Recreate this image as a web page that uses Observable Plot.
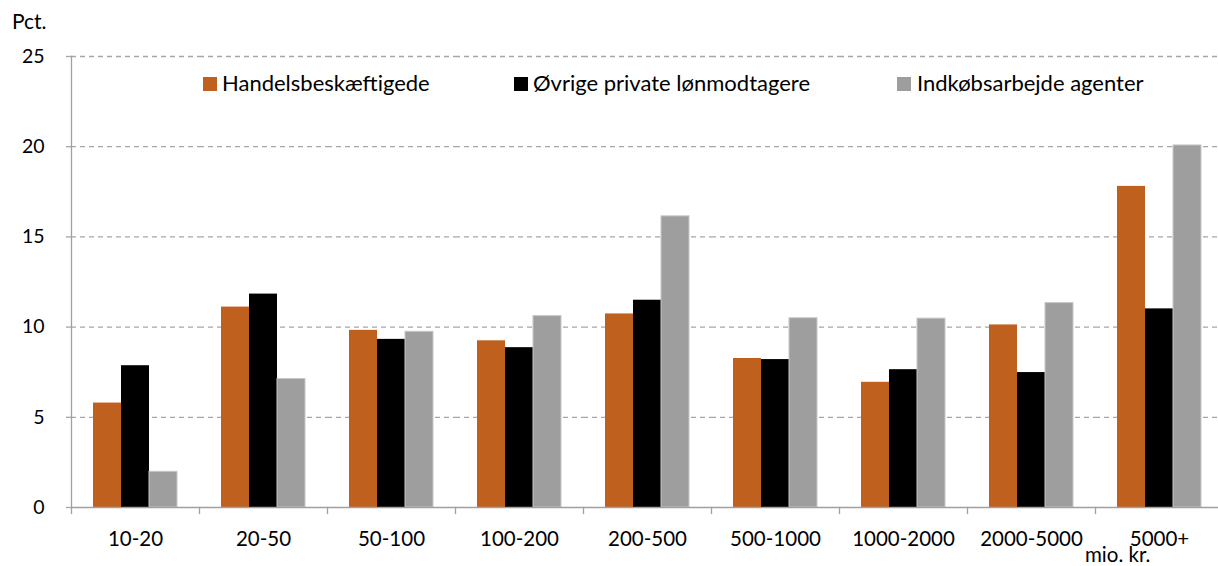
<!DOCTYPE html>
<html>
<head>
<meta charset="utf-8">
<script src="https://cdn.jsdelivr.net/npm/d3@7"></script>
<script src="https://cdn.jsdelivr.net/npm/@observablehq/plot@0.6"></script>
<style>
  html, body { margin: 0; padding: 0; background: #fff; overflow: hidden; }
  #wrap { position: relative; width: 1218px; height: 566px; overflow: hidden; font-family: Lato, "Open Sans", sans-serif; color: #000; }
  #chart { position: absolute; left: 0; top: 0; width: 1226px; }
  #chart svg { max-width: none !important; }
  .ov { position: absolute; white-space: nowrap; line-height: 1; }
  .sw { position: absolute; width: 14px; height: 14px; }
  .lt { position: absolute; font-size: 22px; line-height: 22px; white-space: nowrap; }
</style>
</head>
<body>
<div id="wrap">
  <div id="chart"></div>
  <div class="ov" style="left:12px; top:10px; font-size:21px;">Pct.</div>
  <div class="ov" style="left:1085px; top:547px; font-size:20.5px; line-height:14px;">mio. kr.</div>
  <div id="legend"></div>
</div>
<script>
const categories = ["10-20", "20-50", "50-100", "100-200", "200-500", "500-1000", "1000-2000", "2000-5000", "5000+"];
const seriesNames = ["Handelsbeskæftigede", "Øvrige private lønmodtagere", "Indkøbsarbejde agenter"];
const handel = [5.79, 11.11, 9.82, 9.24, 10.73, 8.26, 6.94, 10.12, 17.80];
const oevrige = [7.86, 11.83, 9.32, 8.86, 11.49, 8.20, 7.64, 7.48, 11.01];
const indkob = [1.98, 7.12, 9.74, 10.61, 16.14, 10.49, 10.47, 11.33, 20.07];
const yTicks = [0, 5, 10, 15, 20, 25];
const colors = ["#C0601E", "#000000", "#9E9E9E"];

const seriesValues = [handel, oevrige, indkob];
const rows = [];
categories.forEach((c, i) => seriesNames.forEach((s, j) => rows.push({cat: c, series: s, value: seriesValues[j][i]})));

const W = 1226, H = 566;
const mL = 67, mR = 0, mT = 56, mB = 59;

const chart = Plot.plot({
  width: W, height: H,
  marginLeft: mL, marginRight: mR, marginTop: mT, marginBottom: mB,
  style: {fontFamily: "Lato, 'Open Sans', sans-serif", background: "#fff", color: "#000", maxWidth: "none"},
  fx: {domain: categories, padding: 0, label: null},
  x: {domain: seriesNames, paddingInner: 0, paddingOuter: 0.755, axis: null},
  y: {domain: [0, 25], label: null},
  color: {domain: seriesNames, range: colors},
  marks: [
    Plot.ruleY(yTicks.filter(d => d > 0), {stroke: "#A6A6A6", strokeWidth: 1.3, strokeDasharray: "5,4"}),
    Plot.barY(rows, {fx: "cat", x: "series", y: "value", fill: "series",
      stroke: d => d.series === seriesNames[2] ? "#C8C8C8" : "none", strokeWidth: 1}),
    Plot.ruleY([0], {stroke: "#A0A0A0", strokeWidth: 1.3}),
    Plot.frame({anchor: "left", stroke: "#A0A0A0", strokeWidth: 1.3, fx: () => categories[0]}),
    Plot.frame({anchor: "left", stroke: "#A0A0A0", strokeWidth: 1.3, insetTop: H - mT - mB, insetBottom: -6}),
    Plot.axisY(yTicks, {tickSize: 8, tickPadding: 19, fontSize: 19.5, label: null, stroke: "#A6A6A6", strokeWidth: 1.3, strokeDasharray: "5,4"}),
    Plot.axisFx({anchor: "bottom", tickSize: 0, tickPadding: 23.5, fontSize: 20.5, label: null})
  ]
});
chart.style.maxWidth = "none";
document.getElementById("chart").appendChild(chart);

const legend = document.getElementById("legend");
const lx = [[203, 222], [514, 533], [897, 917]];
seriesNames.forEach((s, j) => {
  const sw = document.createElement("div");
  sw.className = "sw";
  sw.style.left = lx[j][0] + "px"; sw.style.top = "77px"; sw.style.background = colors[j];
  legend.appendChild(sw);
  const t = document.createElement("div");
  t.className = "lt";
  t.style.left = lx[j][1] + "px"; t.style.top = "72px";
  t.textContent = s;
  legend.appendChild(t);
});
</script>
</body>
</html>
